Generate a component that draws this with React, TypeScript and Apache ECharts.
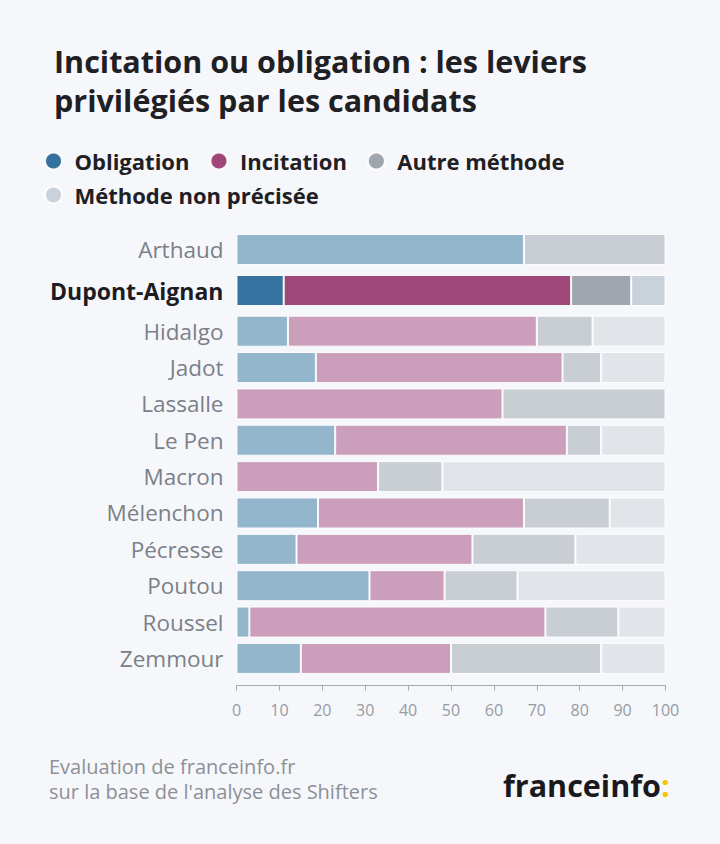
import React, { useEffect, useRef } from "react";
import * as echarts from "echarts";

const candidates = ["Arthaud", "Dupont-Aignan", "Hidalgo", "Jadot", "Lassalle", "Le Pen", "Macron", "Mélenchon", "Pécresse", "Poutou", "Roussel", "Zemmour"];
const highlighted = "Dupont-Aignan";
const seriesNames = ["Obligation", "Incitation", "Autre méthode", "Méthode non précisée"];
const obligation = [67, 11, 12, 18.5, 0, 23, 0, 19, 14, 31, 3, 15];
const incitation = [0, 67, 58, 57.5, 62, 54, 33, 48, 41, 17.5, 69, 35];
const autreMethode = [33, 14, 13, 9, 38, 8, 15, 20, 24, 17, 17, 35];
const nonPrecisee = [0, 8, 17, 15, 0, 15, 52, 13, 21, 34.5, 11, 15];
const xTicks = [0, 10, 20, 30, 40, 50, 60, 70, 80, 90, 100];
const sourceLines = ["Evaluation de franceinfo.fr", "sur la base de l'analyse des Shifters"];

const FULL = ["#35729f", "#9f477a", "#9fa6ae", "#c9d2da"];
const FADED = ["#93b6cd", "#cb9fbb", "#c9ced5", "#e1e5ea"];
const FONT = "Open Sans";
const BG = "#f6f7fb";

export default function App() {
  const ref = useRef<HTMLDivElement>(null);
  useEffect(() => {
    document.body.style.margin = "0";
    const chart = echarts.init(ref.current!, null, { renderer: "svg" });
    const values = [obligation, incitation, autreMethode, nonPrecisee];
    const groups = [candidates.slice(0, 2), candidates.slice(2)];
    const offsets = [0, 2];
    const series: any[] = [];
    groups.forEach((cats, g) => {
      values.forEach((arr, s) => {
        series.push({
          type: "bar",
          name: seriesNames[s],
          stack: "g" + g,
          xAxisIndex: g,
          yAxisIndex: g,
          barWidth: 31,
          itemStyle: { color: FULL[s], borderColor: "rgba(255,255,255,0.9)", borderWidth: 1 },
          emphasis: { disabled: true },
          data: cats.map((c, i) => {
            const v = arr[offsets[g] + i];
            return {
              value: v === 0 ? "-" : v,
              itemStyle: { color: c === highlighted ? FULL[s] : FADED[s] },
            };
          }),
        });
      });
    });
    const yLabel = {
      margin: 13,
      fontFamily: FONT,
      formatter: (v: string) => (v === highlighted ? `{b|${v}}` : `{n|${v}}`),
      rich: {
        b: { fontFamily: FONT, fontSize: 23, fontWeight: "bold", color: "#1c1c22" },
        n: { fontFamily: FONT, fontSize: 22.5, color: "#7b8088" },
      },
    };
    const legendText = { fontFamily: FONT, fontSize: 22, fontWeight: "bold", color: "#1f2024", lineHeight: 24 };
    chart.setOption({
      animation: false,
      backgroundColor: BG,
      title: {
        text: "Incitation ou obligation : les leviers\nprivilégiés par les candidats",
        left: 49,
        top: 36,
        textStyle: { fontFamily: FONT, fontSize: 30.5, fontWeight: "bold", color: "#1f2024", lineHeight: 39 },
      },
      legend: [
        {
          data: seriesNames.slice(0, 3),
          left: 39,
          top: 144,
          icon: "circle",
          itemWidth: 32,
          itemHeight: 17,
          itemGap: 20,
          selectedMode: false,
          textStyle: legendText,
        },
        {
          data: seriesNames.slice(3),
          left: 39,
          top: 178,
          icon: "circle",
          itemWidth: 32,
          itemHeight: 17,
          selectedMode: false,
          textStyle: legendText,
        },
      ],
      grid: [
        { left: 236.5, width: 429, top: 229, height: 82 },
        { left: 236.5, width: 429, top: 313, height: 363.6 },
      ],
      xAxis: [
        { gridIndex: 0, type: "value", min: 0, max: 100, show: false },
        {
          gridIndex: 1,
          type: "value",
          min: 0,
          max: 100,
          interval: 10,
          offset: 9,
          splitLine: { show: false },
          axisLine: { show: true, lineStyle: { color: "#a6abb2", width: 1 } },
          axisTick: { show: true, length: 5, lineStyle: { color: "#a6abb2" } },
          axisLabel: {
            margin: 16,
            fontFamily: FONT,
            fontSize: 16,
            color: "#959ba3",
            formatter: (v: number) => (xTicks.includes(v) ? String(v) : ""),
          },
        },
      ],
      yAxis: groups.map((cats, g) => ({
        gridIndex: g,
        type: "category",
        inverse: true,
        data: cats,
        axisLine: { show: false },
        axisTick: { show: false },
        axisLabel: yLabel,
      })),
      series,
      graphic: [
        ...sourceLines.map((t, i) => ({
          type: "text",
          x: 49,
          y: 766 + i * 25,
          style: {
            text: t,
            fontFamily: FONT,
            fontSize: 20,
            fill: "#8c9096",
            verticalAlign: "middle",
          },
        })),
        {
          type: "text",
          left: 503,
          top: 769,
          style: {
            text: "{a|franceinfo}{c|:}",
            rich: {
              a: { fontFamily: FONT, fontSize: 30.5, fontWeight: "bold", fill: "#1a1a1e" } as any,
              c: { fontFamily: FONT, fontSize: 30.5, fontWeight: "bold", fill: "#f5c400" } as any,
            },
          },
        },
      ],
    });
    return () => chart.dispose();
  }, []);
  return <div ref={ref} style={{ position: "fixed", left: 0, top: 0, width: 720, height: 844, background: BG }} />;
}
